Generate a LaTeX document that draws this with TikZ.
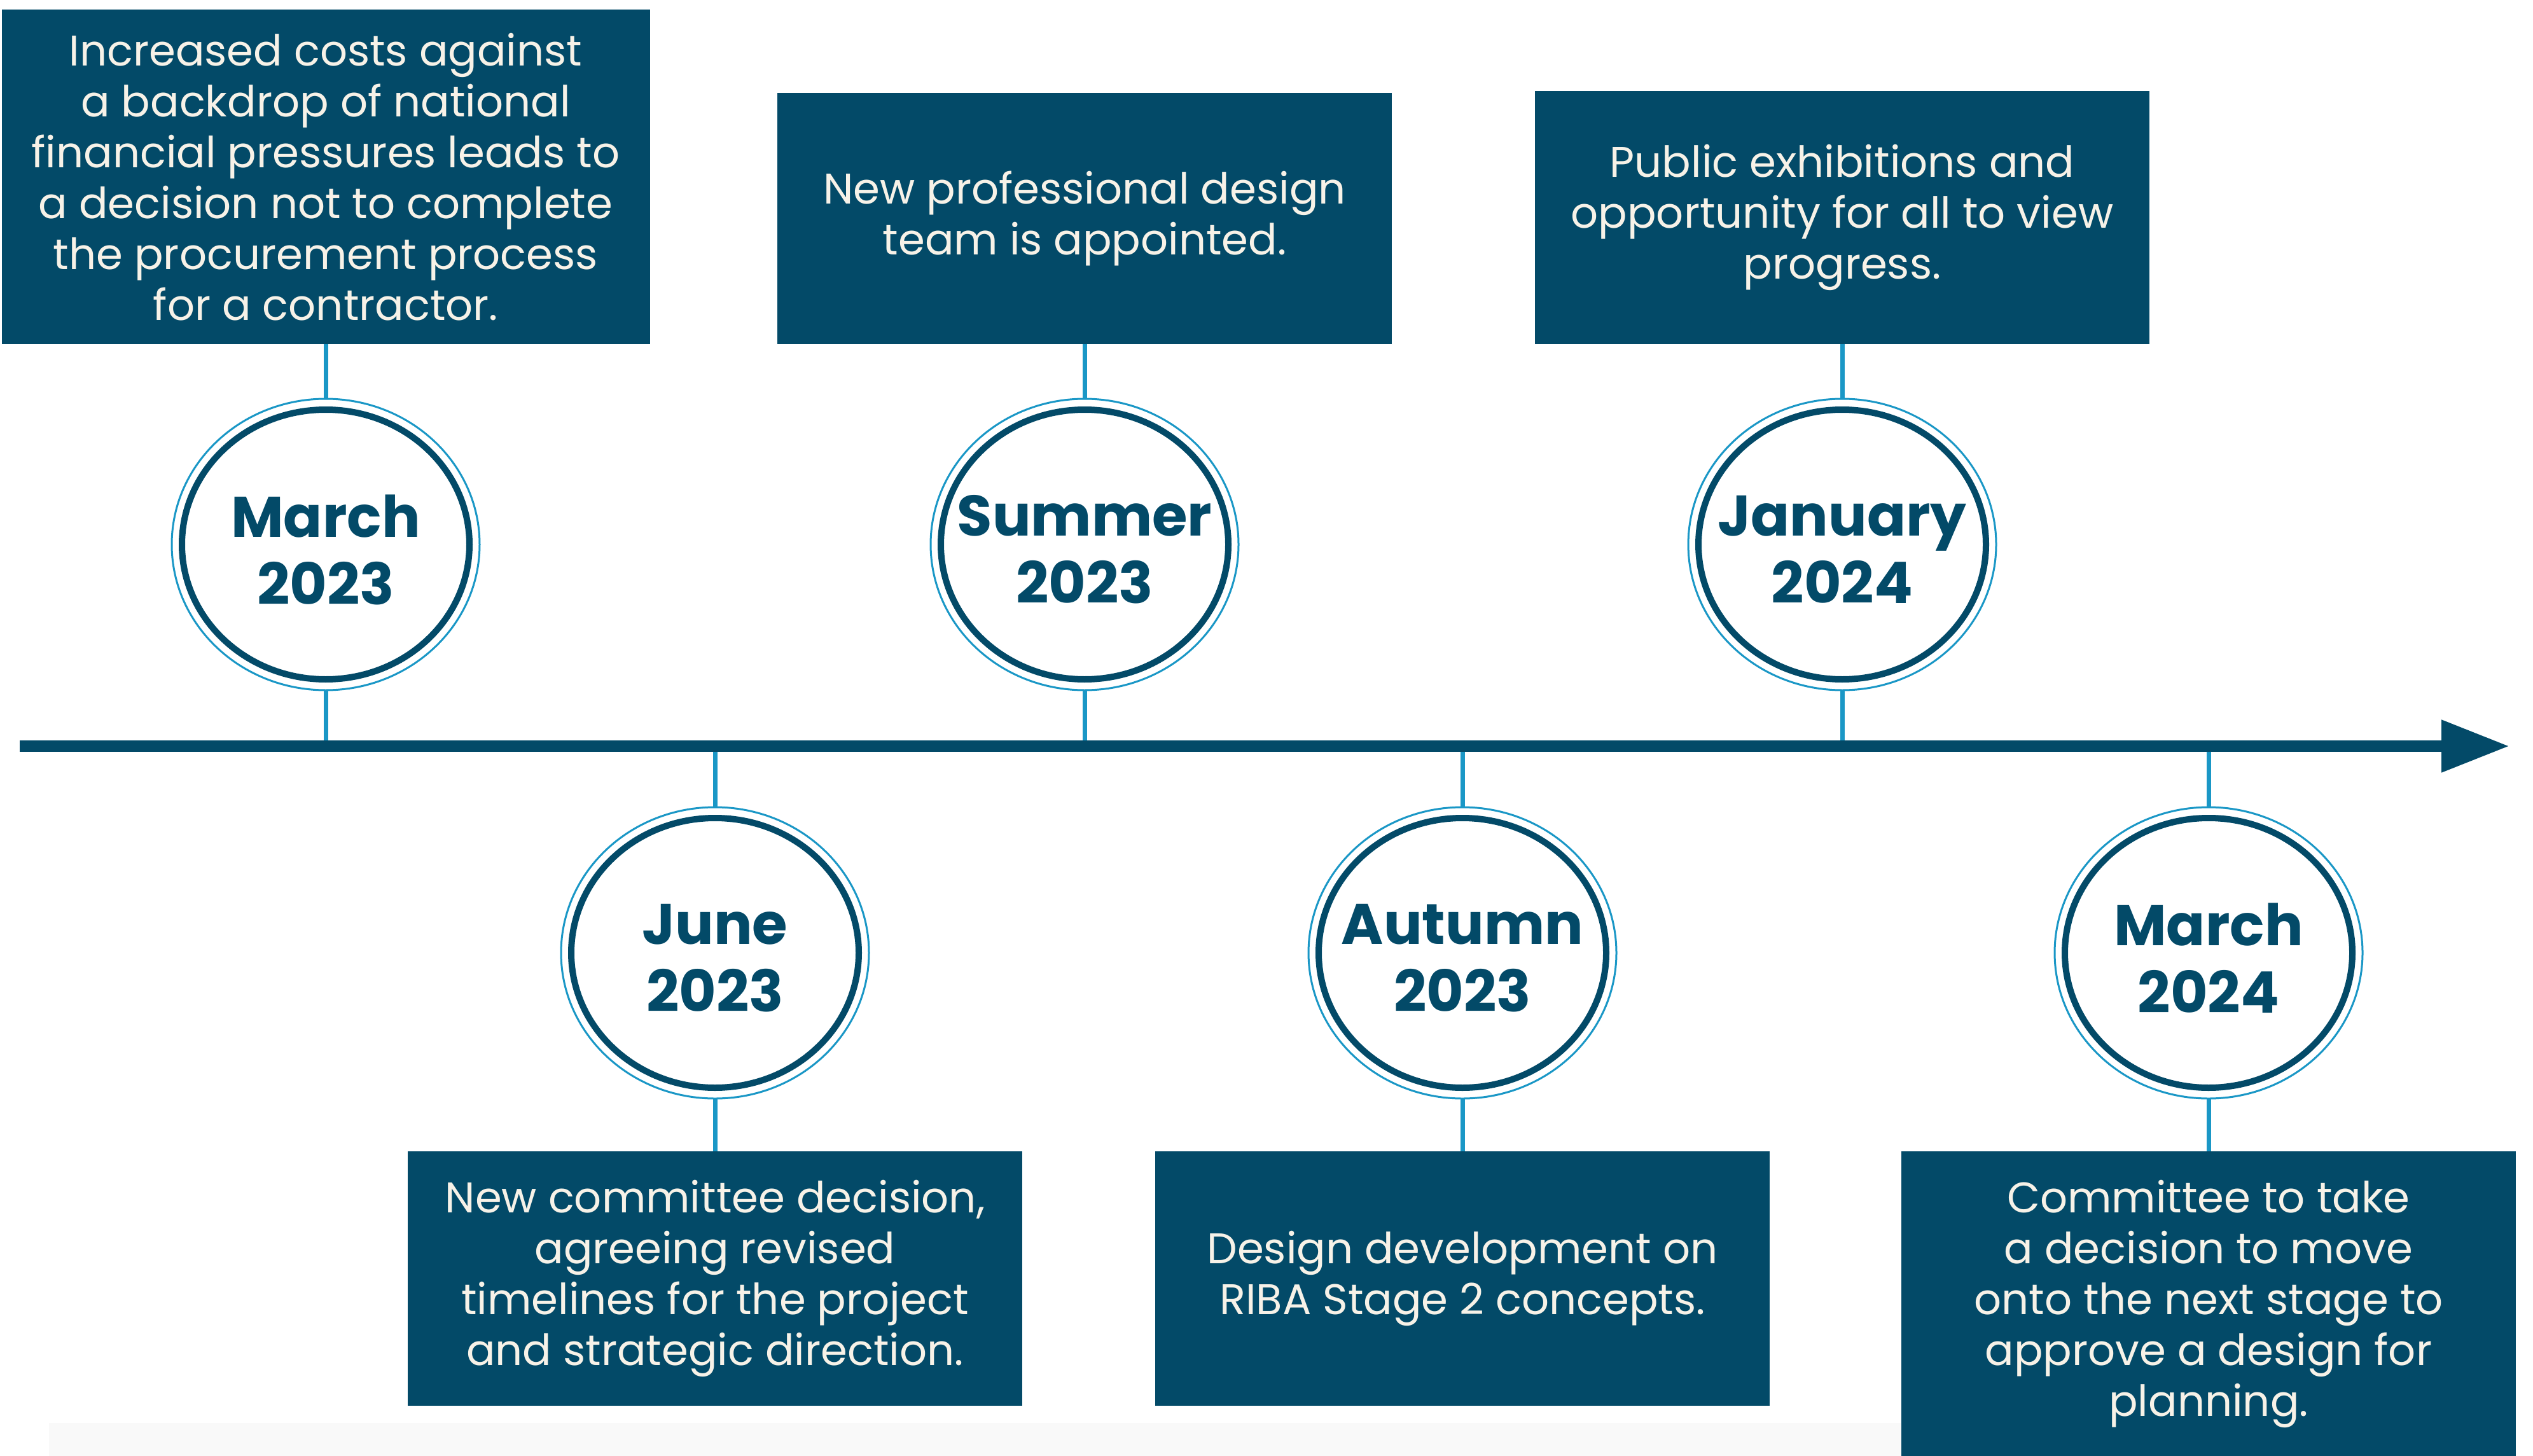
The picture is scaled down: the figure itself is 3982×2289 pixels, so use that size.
\documentclass[tikz,border=0pt]{standalone}
\usepackage{fontspec}
\setmainfont{Poppins}
\usepackage{tikz}
\usetikzlibrary{arrows.meta,positioning,shapes.geometric}
\definecolor{deepteal}{HTML}{034A68}
\definecolor{skyline}{HTML}{1A97C6}
\definecolor{cream}{HTML}{F7F2E8}
\definecolor{faintgray}{HTML}{F9F9F9}

\begin{document}
\begin{tikzpicture}[
  x=0.25pt,y=-0.25pt,
  ring/.style={ellipse,draw=skyline,line width=0.75pt,minimum width=121pt,minimum height=114.5pt,inner sep=0pt,outer sep=0pt},
  date/.style={ellipse,draw=deepteal,line width=2.5pt,fill=white,minimum width=113pt,minimum height=106pt,inner sep=0pt,outer sep=0pt},
  datetext/.style={text=deepteal,align=center,yshift=-2pt,font=\fontsize{22.5}{26.5}\selectfont\bfseries},
  note/.style={fill=deepteal,text=cream,minimum width=241.5pt,minimum height=100pt,inner sep=0pt,outer sep=0pt,align=center,font=\fontsize{16.85}{20}\selectfont},
  link/.style={draw=skyline,line width=1.75pt},
  timeline/.style={draw=deepteal,line width=4.5pt,-{Triangle[length=26.75pt,width=19.5pt]}}
]
\useasboundingbox (0,0) rectangle (3982,2289);
\fill[faintgray] (77,2237) rectangle (2988,2289);

\coordinate (tl0) at (31,1173);
\coordinate (tl1) at (3945,1173);

\node[ring] (r1) at (512,856) {};
\node[ring] (r2) at (1124,1498) {};
\node[ring] (r3) at (1705,856) {};
\node[ring] (r4) at (2299,1498) {};
\node[ring] (r5) at (2896,856) {};
\node[ring] (r6) at (3472,1498) {};

\node[date,label={[datetext]center:March\\2023}] (d1) at (r1) {};
\node[date,label={[datetext]center:June\\2023}] (d2) at (r2) {};
\node[date,label={[datetext]center:Summer\\2023}] (d3) at (r3) {};
\node[date,label={[datetext]center:Autumn\\2023}] (d4) at (r4) {};
\node[date,label={[datetext]center:January\\2024}] (d5) at (r5) {};
\node[date,label={[datetext]center:March\\2024}] (d6) at (r6) {};

\node[note,minimum width=254.75pt,minimum height=131.5pt,above=21.5pt of r1] (n1)
  {Increased costs against\\a backdrop of national\\financial pressures leads to\\a decision not to complete\\the procurement process\\for a contractor.};
\node[note,below=20.75pt of r2] (n2)
  {New committee decision,\\agreeing revised\\timelines for the project\\and strategic direction.};
\node[note,minimum height=98.75pt,above=21.5pt of r3] (n3)
  {New professional design\\team is appointed.};
\node[note,below=20.75pt of r4] (n4)
  {Design development on\\RIBA Stage 2 concepts.};
\node[note,minimum height=99.5pt,above=21.5pt of r5] (n5)
  {Public exhibitions and\\opportunity for all to view\\progress.};
\node[note,minimum height=119.75pt,below=20.75pt of r6] (n6)
  {Committee to take\\a decision to move\\onto the next stage to\\approve a design for\\planning.};

\draw[link] (n1) -- (r1);
\draw[link] (n3) -- (r3);
\draw[link] (n5) -- (r5);
\draw[link] (n2) -- (r2);
\draw[link] (n4) -- (r4);
\draw[link] (n6) -- (r6);
\draw[link] (r1) -- (r1 |- tl0);
\draw[link] (r3) -- (r3 |- tl0);
\draw[link] (r5) -- (r5 |- tl0);
\draw[link] (r2) -- (r2 |- tl0);
\draw[link] (r4) -- (r4 |- tl0);
\draw[link] (r6) -- (r6 |- tl0);
\draw[timeline] (tl0) -- (tl1);
\end{tikzpicture}
\end{document}
